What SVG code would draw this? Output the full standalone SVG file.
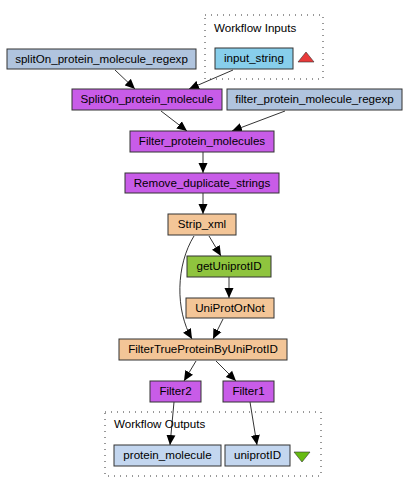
<svg xmlns="http://www.w3.org/2000/svg" width="408" height="500" viewBox="0 0 408 500">
<style>
text{font-family:"Liberation Sans",Arial,sans-serif;font-size:11.6px;fill:#000;text-anchor:middle}
.lbl{text-anchor:start}
.n{stroke:#333;stroke-width:1}
.const{fill:#b0c4de}
.inp{fill:#87ceeb}
.outp{fill:#c3d6ef}
.bean{fill:#c85ce8}
.tan{fill:#f3c597}
.green{fill:#8fc43e}
.cluster{fill:none;stroke:#333;stroke-width:1;stroke-dasharray:1 5}
.e{fill:none;stroke:#000;stroke-width:0.8;marker-end:url(#arr)}
</style>
<defs>
<marker id="arr" viewBox="0 0 10 10" refX="10" refY="5" markerWidth="10" markerHeight="10" markerUnits="userSpaceOnUse" orient="auto">
<path d="M0,0.5 L10,5 L0,9.5 z" fill="#000"/>
</marker>
</defs>
<rect width="408" height="500" fill="#fff"/>
<g id="workflow_inputs">
<rect class="cluster" x="205" y="15" width="118" height="64"/>
<text class="lbl" x="214" y="32">Workflow Inputs</text>
</g>
<g id="workflow_outputs">
<rect class="cluster" x="105" y="412" width="216" height="64"/>
<text class="lbl" x="114" y="428">Workflow Outputs</text>
</g>
<g id="connectors">
<path class="e" d="M115,70 L135,89"/>
<path class="e" d="M233,70 L189,89"/>
<path class="e" d="M161,111 L187,131"/>
<path class="e" d="M285,111 L232,131"/>
<path class="e" d="M203,152 L203,173"/>
<path class="e" d="M203,193 L203,214"/>
<path class="e" d="M209,236 L221,256"/>
<path class="e" d="M229,277 L229,298"/>
<path class="e" d="M194,236 C176,265 175,310 192,339"/>
<path class="e" d="M223,319 L213,339"/>
<path class="e" d="M196,361 L184,381"/>
<path class="e" d="M216,361 L236,381"/>
<path class="e" d="M174,402 L170,445"/>
<path class="e" d="M250,402 L257,445"/>
</g>
<g id="input_string">
<rect class="n inp" x="215" y="48" width="78" height="21"/>
<text x="254" y="62">input_string</text>
<polygon points="298,62 314,62 306,52" fill="#e83a3a" stroke="#333" stroke-width="0.6"/>
</g>
<g id="splitOn_protein_molecule_regexp">
<rect class="n const" x="7" y="49" width="189" height="20"/>
<text x="101.5" y="63">splitOn_protein_molecule_regexp</text>
</g>
<g id="SplitOn_protein_molecule">
<rect class="n bean" x="72" y="89" width="150" height="21"/>
<text x="147" y="103">SplitOn_protein_molecule</text>
</g>
<g id="filter_protein_molecule_regexp">
<rect class="n const" x="227" y="89" width="175" height="21"/>
<text x="314.5" y="103">filter_protein_molecule_regexp</text>
</g>
<g id="Filter_protein_molecules">
<rect class="n bean" x="130" y="131" width="144" height="21"/>
<text x="202" y="145">Filter_protein_molecules</text>
</g>
<g id="Remove_duplicate_strings">
<rect class="n bean" x="125" y="173" width="154" height="20"/>
<text x="202" y="187">Remove_duplicate_strings</text>
</g>
<g id="Strip_xml">
<rect class="n tan" x="168" y="214" width="68" height="21"/>
<text x="202" y="228">Strip_xml</text>
</g>
<g id="getUniprotID">
<rect class="n green" x="187" y="256" width="84" height="21"/>
<text x="229" y="270">getUniprotID</text>
</g>
<g id="UniProtOrNot">
<rect class="n tan" x="186" y="298" width="88" height="20"/>
<text x="230" y="312">UniProtOrNot</text>
</g>
<g id="FilterTrueProteinByUniProtID">
<rect class="n tan" x="119" y="339" width="168" height="21"/>
<text x="203" y="353">FilterTrueProteinByUniProtID</text>
</g>
<g id="Filter2">
<rect class="n bean" x="150" y="381" width="51" height="21"/>
<text x="175.5" y="395">Filter2</text>
</g>
<g id="Filter1">
<rect class="n bean" x="223" y="381" width="51" height="21"/>
<text x="248.5" y="395">Filter1</text>
</g>
<g id="protein_molecule">
<rect class="n outp" x="114" y="445" width="107" height="21"/>
<text x="167.5" y="459">protein_molecule</text>
</g>
<g id="uniprotID">
<rect class="n outp" x="225" y="445" width="65" height="21"/>
<text x="257.5" y="459">uniprotID</text>
<polygon points="294,452 310,452 302,462" fill="#66bb11" stroke="#333" stroke-width="0.6"/>
</g>
</svg>
